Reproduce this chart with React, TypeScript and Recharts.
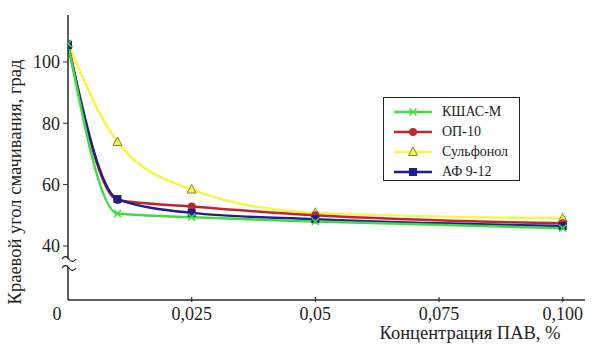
import { LineChart, Line, XAxis, YAxis, Legend } from "recharts";

const concentration = [0, 0.01, 0.025, 0.05, 0.1];
const kshasM = [106, 50.6, 49.4, 48, 45.8];
const op10 = [106, 55, 52.9, 50, 47.4];
const sulfonol = [106, 73.9, 58.4, 50.8, 49];
const af912 = [105.5, 55.3, 50.8, 48.7, 46.5];

const xTicks = [0, 0.025, 0.05, 0.075, 0.1];
const xTickLabels = ["0", "0,025", "0,05", "0,075", "0,100"];
const yTicks = [40, 60, 80, 100];

const data = concentration.map((c, i) => ({
  c,
  kshas: kshasM[i],
  op: op10[i],
  sulf: sulfonol[i],
  af: af912[i],
}));

const FONT = "Liberation Serif, DejaVu Serif, serif";
const AXIS = "#2a2a2a";

const GREEN = "#3fdc3f";
const RED = "#c0272d";
const YELLOW = "#f7f54a";
const BLUE = "#1e1e8e";

const series = [
  { key: "kshas", name: "КШАС-М", color: GREEN, marker: "x" },
  { key: "op", name: "ОП-10", color: RED, marker: "circle" },
  { key: "sulf", name: "Сульфонол", color: YELLOW, marker: "triangle" },
  { key: "af", name: "АФ 9-12", color: BLUE, marker: "square" },
];

function Marker({ cx, cy, type, color }: { cx: number; cy: number; type: string; color: string }) {
  if (cx == null || cy == null) return null;
  if (type === "x") {
    return (
      <g stroke={color} strokeWidth={1.6}>
        <line x1={cx - 3.5} y1={cy - 3.5} x2={cx + 3.5} y2={cy + 3.5} />
        <line x1={cx - 3.5} y1={cy + 3.5} x2={cx + 3.5} y2={cy - 3.5} />
      </g>
    );
  }
  if (type === "circle") return <circle cx={cx} cy={cy} r={4} fill={color} />;
  if (type === "square") return <rect x={cx - 4} y={cy - 4} width={8} height={8} fill={color} />;
  return (
    <polygon
      points={`${cx},${cy - 5} ${cx - 4.5},${cy + 3.5} ${cx + 4.5},${cy + 3.5}`}
      fill={color}
      stroke="#8a8530"
      strokeWidth={1}
    />
  );
}

const XTick = (props: any) => {
  const { x, y, payload } = props;
  const idx = xTicks.indexOf(payload.value);
  const label = idx >= 0 ? xTickLabels[idx] : String(payload.value);
  const isZero = payload.value === 0;
  return (
    <g>
      {!isZero && <line x1={x} y1={y} x2={x} y2={y - 5} stroke={AXIS} strokeWidth={1.2} />}
      <text
        x={isZero ? x - 11 : x}
        y={y + 18}
        textAnchor="middle"
        fontSize={18}
        fontFamily={FONT}
        fill="#222"
      >
        {label}
      </text>
    </g>
  );
};

const YLabel = () => (
  <g>
    <text
      x={21}
      y={182}
      transform="rotate(-90 21 182)"
      textAnchor="middle"
      fontSize={18.5}
      fontFamily={FONT}
      fill="#222"
    >
      Краевой угол смачивания, град
    </text>
    <rect x={62} y={259} width={14} height={8} fill="#fff" />
    <path d="M62,259 q3.5,-5 7,0 t7,0" fill="none" stroke={AXIS} strokeWidth={1.3} />
    <path d="M62,268 q3.5,-5 7,0 t7,0" fill="none" stroke={AXIS} strokeWidth={1.3} />
  </g>
);

const XLabel = () => (
  <text x={470} y={339} textAnchor="middle" fontSize={18.5} fontFamily={FONT} fill="#222">
    Концентрация ПАВ, %
  </text>
);

const LegendBox = () => (
  <div
    style={{
      width: 137,
      height: 84,
      border: "1.6px solid #222",
      boxSizing: "border-box",
      background: "#fff",
      fontFamily: FONT,
      fontSize: 14,
      color: "#222",
      paddingTop: 4,
    }}
  >
    {series.map((s) => (
      <div key={s.key} style={{ display: "flex", alignItems: "center", height: 20 }}>
        <svg width={50} height={20} style={{ marginLeft: 4 }}>
          <line x1={6} y1={10} x2={44} y2={10} stroke={s.color} strokeWidth={2.5} />
          <Marker cx={25} cy={10} type={s.marker} color={s.color} />
        </svg>
        <span style={{ marginLeft: 4 }}>{s.name}</span>
      </div>
    ))}
  </div>
);

export default function App() {
  return (
    <div style={{ position: "absolute", left: 0, top: 0, width: 601, height: 344, background: "#fff" }}>
      <LineChart
        width={601}
        height={344}
        data={data}
        margin={{ top: 15, right: 16, bottom: 0, left: 28 }}
      >
        <XAxis
          dataKey="c"
          type="number"
          domain={[0, 0.1045]}
          ticks={xTicks}
          height={44}
          tickSize={0}
          tickLine={false}
          tick={<XTick />}
          axisLine={{ stroke: AXIS, strokeWidth: 1.5 }}
          allowDataOverflow
          label={{ content: () => <XLabel /> }}
        />
        <YAxis
          type="number"
          domain={[22.4, 115.3]}
          ticks={yTicks}
          width={40}
          tickSize={5}
          tickMargin={3}
          allowDataOverflow
          axisLine={{ stroke: AXIS, strokeWidth: 1.5 }}
          tickLine={{ stroke: AXIS }}
          tick={{ fontSize: 18, fontFamily: FONT, fill: "#222" }}
          label={{ content: () => <YLabel /> }}
        />
        <Legend
          layout="vertical"
          align="center"
          verticalAlign="middle"
          content={() => <LegendBox />}
          wrapperStyle={{ left: 383, top: 97, width: 137, height: 84 }}
        />
        {[series[2], series[1], series[3], series[0]].map((s) => (
          <Line
            key={s.key}
            type="monotone"
            dataKey={s.key}
            name={s.name}
            stroke={s.color}
            strokeWidth={2.5}
            isAnimationActive={false}
            dot={(p: any) => (
              <Marker key={`${s.key}-${p.index}`} cx={p.cx} cy={p.cy} type={s.marker} color={s.color} />
            )}
            activeDot={false}
          />
        ))}
      </LineChart>
    </div>
  );
}
